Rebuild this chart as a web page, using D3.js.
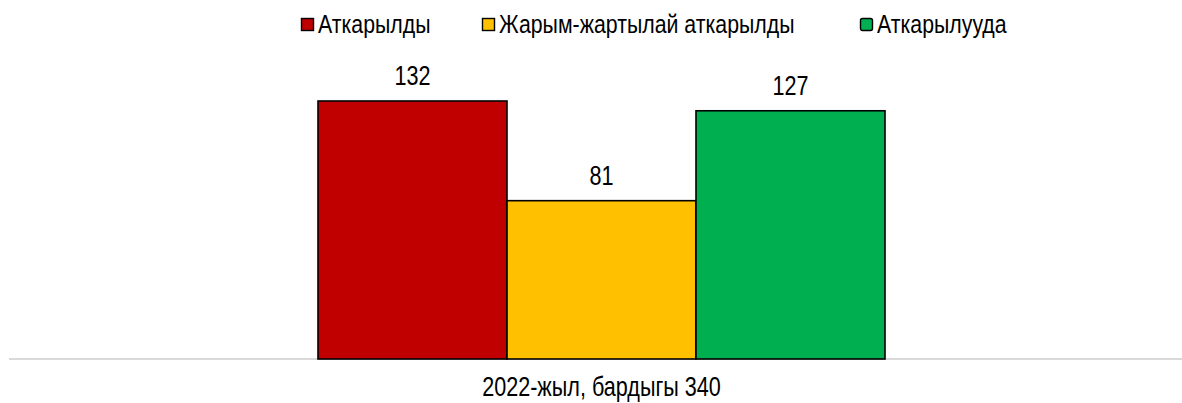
<!DOCTYPE html>
<html>
<head>
<meta charset="utf-8">
<script src="https://cdn.jsdelivr.net/npm/d3@7"></script>
<style>
  body { margin: 0; background: #fff; }
  text { font-family: "Liberation Sans Narrow", "Arial Narrow", "Liberation Sans", Arial, sans-serif; fill: #000; }
</style>
</head>
<body>
<svg id="chart"></svg>
<script>
const series = ['Аткарылды', 'Жарым-жартылай аткарылды', 'Аткарылууда']
const values = [132, 81, 127]
const colors = ['#c00000', '#ffc000', '#00b050']
const category = '2022-жыл, бардыгы 340'

const width = 1182
const height = 403
const baseY = 359
const fontSize = 27
const narrow = 0.8 // squeeze to mimic a narrow face

const svg = d3.select('#chart')
  .attr('width', width)
  .attr('height', height)

// bars sit side by side, one category
const x = d3.scaleBand()
  .domain(series)
  .range([318, 885])
  .padding(0)

const y = d3.scaleLinear()
  .domain([0, 132])
  .range([baseY, 101])

// axis line
svg.append('line')
  .attr('x1', 9).attr('x2', width)
  .attr('y1', baseY).attr('y2', baseY)
  .attr('stroke', '#d9d9d9')
  .attr('stroke-width', 2)

const bar = svg.selectAll('g.bar')
  .data(series)
  .enter().append('g')
  .attr('class', 'bar')

bar.append('rect')
  .attr('x', d => x(d))
  .attr('y', (d, i) => y(values[i]))
  .attr('width', x.bandwidth())
  .attr('height', (d, i) => baseY - y(values[i]))
  .attr('fill', (d, i) => colors[i])
  .attr('stroke', '#000')
  .attr('stroke-width', 1.6)

// value labels above the bars
bar.append('text')
  .attr('transform', (d, i) =>
    `translate(${x(d) + x.bandwidth() / 2}, ${y(values[i]) - 16}) scale(${narrow}, 1)`)
  .attr('text-anchor', 'middle')
  .attr('font-size', fontSize)
  .text((d, i) => values[i])

// category label
svg.append('text')
  .attr('transform', `translate(${(x.range()[0] + x.range()[1]) / 2}, 396) scale(${narrow}, 1)`)
  .attr('text-anchor', 'middle')
  .attr('font-size', fontSize)
  .text(category)

// legend
const legendX = [301, 482, 860]
const item = svg.selectAll('g.legend')
  .data(series)
  .enter().append('g')
  .attr('class', 'legend')
  .attr('transform', (d, i) => `translate(${legendX[i]}, 25)`)

item.append('rect')
  .attr('x', 0.5).attr('y', -6.5)
  .attr('width', 12).attr('height', 12)
  .attr('rx', (d, i) => i === 2 ? 2 : 0)
  .attr('fill', (d, i) => colors[i])
  .attr('stroke', '#000')
  .attr('stroke-width', 1.4)

item.append('text')
  .attr('transform', `translate(17, 8) scale(0.82, 1)`)
  .attr('font-size', 26)
  .text(d => d)
</script>
</body>
</html>
